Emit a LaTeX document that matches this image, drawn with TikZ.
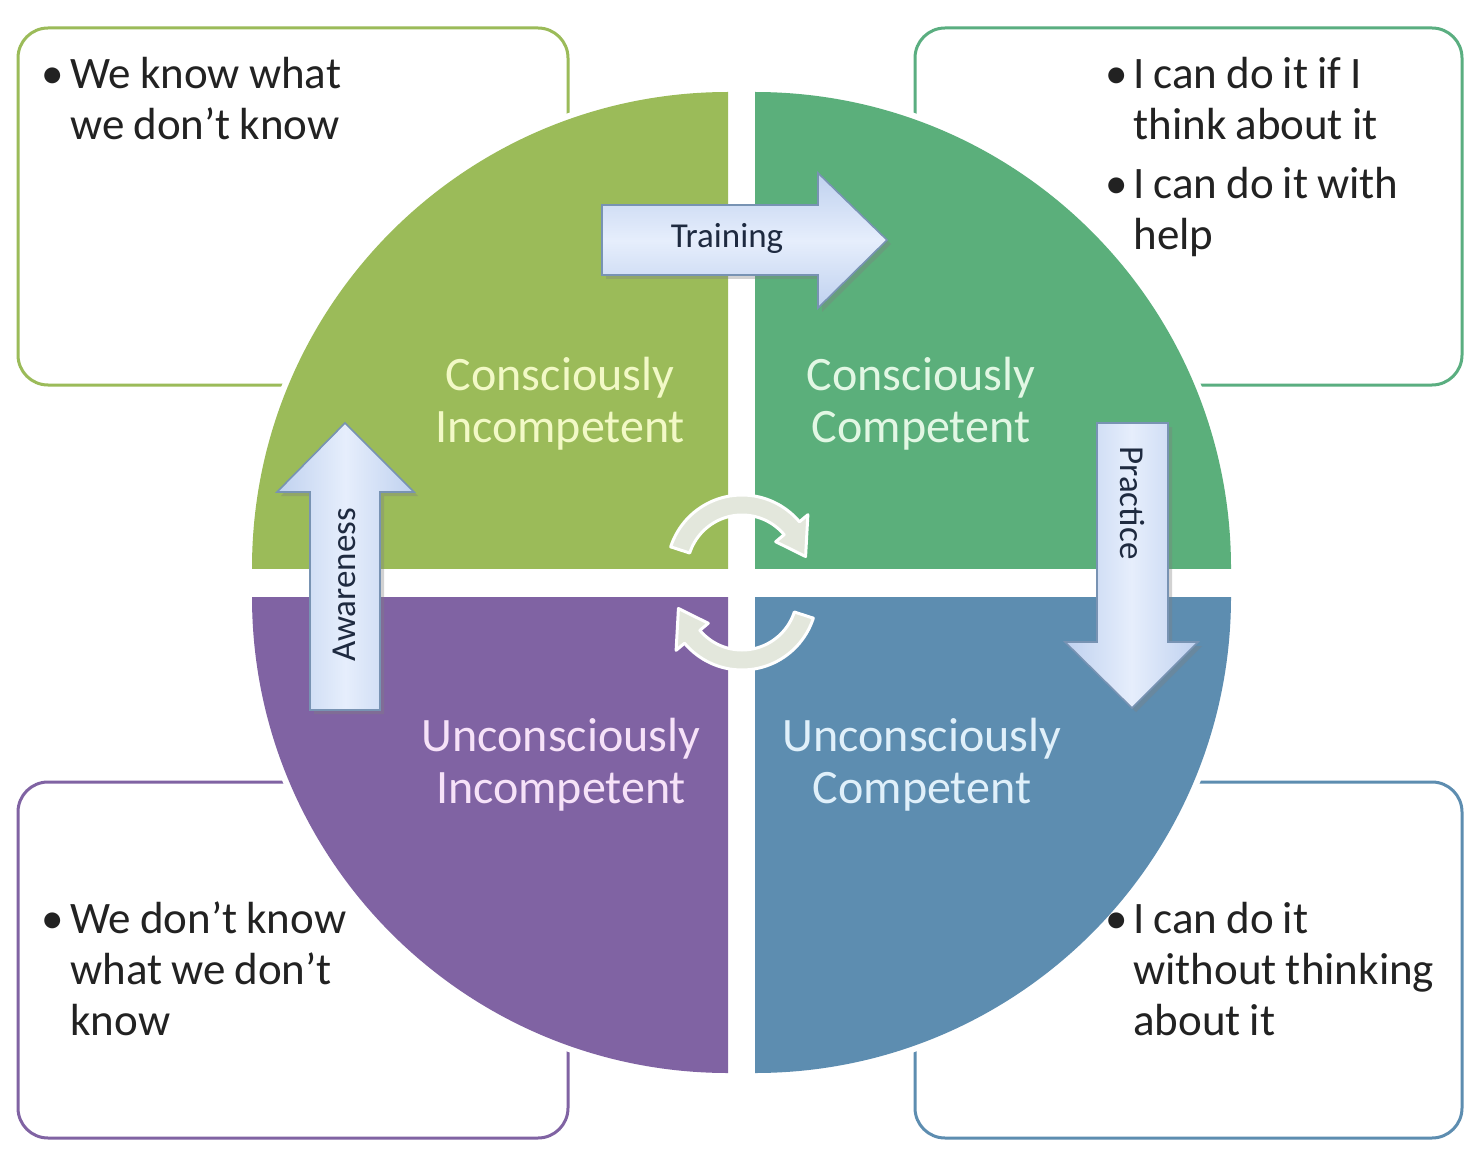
\documentclass[tikz,border=0pt]{standalone}
\usepackage{fontspec}
\setmainfont{Carlito}
\usetikzlibrary{calc,shadows}
\definecolor{qtl}{HTML}{9BBB59}
\definecolor{qtr}{HTML}{5BAF7B}
\definecolor{qbl}{HTML}{8063A3}
\definecolor{qbr}{HTML}{5D8DB0}
\definecolor{btr}{HTML}{5AAE80}
\definecolor{ttl}{HTML}{F2F9C6}
\definecolor{ttr}{HTML}{E2F7E4}
\definecolor{tbl}{HTML}{F6E2F8}
\definecolor{tbr}{HTML}{E0F0FA}
\definecolor{arrtop}{HTML}{E6EEFC}
\definecolor{arrbot}{HTML}{BFD1EF}
\definecolor{arrline}{HTML}{7893B3}
\definecolor{cyc}{HTML}{E3E7DC}
\definecolor{bullettext}{HTML}{222222}
\definecolor{arrtext}{HTML}{1E2A40}
\newcommand{\myBulletFont}{\fontsize{22.5}{25.5}\selectfont}
\newcommand{\myTightSpace}{\spaceskip=0.2em plus 0.05em minus 0.05em\relax}
\begin{document}
\begin{tikzpicture}[x=0.5pt,y=-0.5pt,
  infobox/.style={line width=1.5pt, rounded corners=15pt},
  quadlabel/.style={font=\fontsize{24}{26}\selectfont, align=center, text width=180pt, anchor=base, inner sep=0pt},
  bullettxt/.style={font=\myBulletFont, execute at begin node=\myTightSpace,
     align=left, text width=200pt, anchor=base west, inner sep=0pt, text=bullettext},
  bulletdot/.style={font=\myBulletFont, anchor=base, inner sep=0pt, text=bullettext},
  blockarrow/.style={draw=arrline, line width=0.8pt, line join=miter,
     drop shadow={shadow xshift=2pt, shadow yshift=-2pt, opacity=0.35}},
  harrow/.style={blockarrow, top color=arrbot, bottom color=arrbot, middle color=arrtop},
  varrow/.style={blockarrow, left color=arrbot, right color=arrbot, middle color=arrtop},
  arrowlabel/.style={font=\fontsize{17.5}{19}\selectfont, text=arrtext, inner sep=0pt},
  cycarrow/.style={fill=cyc, draw=white, line width=1.5pt, line join=round}
]
\useasboundingbox (0,0) rectangle (1478,1155);
\fill[white] (0,0) rectangle (1478,1155);

% info boxes
\draw[infobox, draw=qtl] (18,28) rectangle (568,385);
\draw[infobox, draw=btr] (915,28) rectangle (1462,385);
\draw[infobox, draw=qbl] (18,782) rectangle (568,1138);
\draw[infobox, draw=qbr] (915,782) rectangle (1462,1138);

% white halos of the quadrants
\begin{scope}
  \clip (0,0) rectangle (733,573);
  \fill[white] (728,568) circle[radius=482];
\end{scope}
\begin{scope}
  \clip (750,0) rectangle (1478,573);
  \fill[white] (755,568) circle[radius=482];
\end{scope}
\begin{scope}
  \clip (0,592) rectangle (733,1155);
  \fill[white] (728,597) circle[radius=482];
\end{scope}
\begin{scope}
  \clip (750,592) rectangle (1478,1155);
  \fill[white] (755,597) circle[radius=482];
\end{scope}

% quadrants
\begin{scope}
  \clip (0,0) rectangle (728,568);
  \fill[qtl] (728,568) circle[radius=476];
\end{scope}
\begin{scope}
  \clip (755,0) rectangle (1478,568);
  \fill[qtr] (755,568) circle[radius=476];
\end{scope}
\begin{scope}
  \clip (0,597) rectangle (728,1155);
  \fill[qbl] (728,597) circle[radius=476];
\end{scope}
\begin{scope}
  \clip (755,597) rectangle (1478,1155);
  \fill[qbr] (755,597) circle[radius=476];
\end{scope}

% quadrant labels
\node[quadlabel, text=ttl] (lci) at (560,390) {Consciously\\Incompetent};
\node[quadlabel, text=ttr] (lcc) at (921,390) {Consciously\\Competent};
\node[quadlabel, text=tbl] (lui) at (561,751) {Unconsciously\\Incompetent};
\node[quadlabel, text=tbr] (luc) at (922,751) {Unconsciously\\Competent};

% cycle arrows
\path[cycarrow]
  plot[domain=198:320, samples=40, variable=\t] ({742+75*cos(\t)},{570+75*sin(\t)})
  -- ({742+86*cos(320)},{570+86*sin(320)})
  -- ({742+65*cos(348)},{570+65*sin(348)})
  -- ({742+44*cos(320)},{570+44*sin(320)})
  -- plot[domain=320:198, samples=40, variable=\t] ({742+55*cos(\t)},{570+55*sin(\t)})
  -- cycle;
\path[cycarrow]
  plot[domain=18:140, samples=40, variable=\t] ({742+75*cos(\t)},{595+75*sin(\t)})
  -- ({742+86*cos(140)},{595+86*sin(140)})
  -- ({742+65*cos(168)},{595+65*sin(168)})
  -- ({742+44*cos(140)},{595+44*sin(140)})
  -- plot[domain=140:18, samples=40, variable=\t] ({742+55*cos(\t)},{595+55*sin(\t)})
  -- cycle;

% block arrows
\path[harrow] (602,205) -- (818,205) -- (818,173) -- (887,240) -- (818,308) -- (818,275) -- (602,275) -- cycle;
\node[arrowlabel] (training) at (727,238) {Training};

\path[varrow] (310,710) -- (310,492) -- (277,492) -- (345,423) -- (414,492) -- (380,492) -- (380,710) -- cycle;
\node[arrowlabel, rotate=90] (awareness) at (344,585) {Awareness};

\path[varrow] (1097,423) -- (1168,423) -- (1168,642) -- (1198,642) -- (1132,708) -- (1065,642) -- (1097,642) -- cycle;
\node[arrowlabel, rotate=-90] (practice) at (1132,503) {Practice};

% bullet texts
\node[bulletdot] (d1) at (53,89) {•};
\node[bullettxt] (t1) at (70,89) {We know what\\we don't know};

\node[bulletdot] (d2) at (1117,89) {•};
\node[bullettxt] (t2) at (1133,89) {I can do it if I\\think about it};
\node[bulletdot] (d3) at (1117,199) {•};
\node[bullettxt] (t3) at (1133,199) {I can do it with\\help};

\node[bulletdot] (d4) at (53,933) {•};
\node[bullettxt] (t4) at (70,933) {We don't know\\what we don't\\know};

\node[bulletdot] (d5) at (1117,933) {•};
\node[bullettxt] (t5) at (1133,933) {I can do it\\without thinking\\about it};
\end{tikzpicture}
\end{document}
